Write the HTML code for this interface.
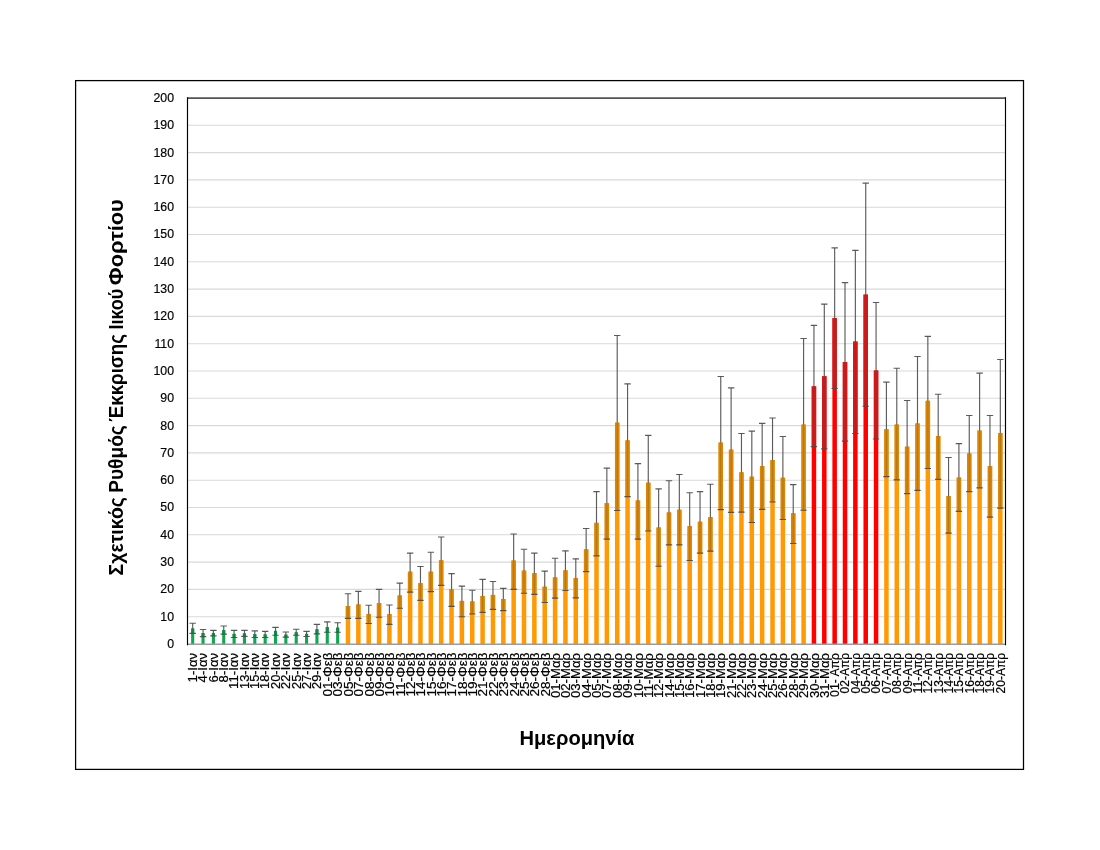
<!DOCTYPE html>
<html lang="el"><head><meta charset="utf-8"><title>Σχετικός Ρυθμός Έκκρισης Ιικού Φορτίου</title>
<style>html,body{margin:0;padding:0;background:#fff}body{width:1100px;height:850px;overflow:hidden}svg{display:block}text{font-family:"Liberation Sans",sans-serif;fill:#000}.yt{font-size:12.3px;text-anchor:end;fill:#111;stroke:#111;stroke-width:0.2px}.xt{text-anchor:end;fill:#000;stroke:#000;stroke-width:0.2px}.ttl{font-weight:bold;font-size:19.8px}</style></head><body>
<svg width="1100" height="850" viewBox="0 0 1100 850">
<rect x="0" y="0" width="1100" height="850" fill="#fff"/>
<rect x="75.6" y="80.6" width="947.9" height="688.8" fill="none" stroke="#000" stroke-width="1.25"/>
<g stroke="#d9d9d9" stroke-width="1.1">
<line x1="188.0" y1="616.70" x2="1005.5" y2="616.70"/>
<line x1="188.0" y1="589.40" x2="1005.5" y2="589.40"/>
<line x1="188.0" y1="562.10" x2="1005.5" y2="562.10"/>
<line x1="188.0" y1="534.80" x2="1005.5" y2="534.80"/>
<line x1="188.0" y1="507.50" x2="1005.5" y2="507.50"/>
<line x1="188.0" y1="480.20" x2="1005.5" y2="480.20"/>
<line x1="188.0" y1="452.90" x2="1005.5" y2="452.90"/>
<line x1="188.0" y1="425.60" x2="1005.5" y2="425.60"/>
<line x1="188.0" y1="398.30" x2="1005.5" y2="398.30"/>
<line x1="188.0" y1="371.00" x2="1005.5" y2="371.00"/>
<line x1="188.0" y1="343.70" x2="1005.5" y2="343.70"/>
<line x1="188.0" y1="316.40" x2="1005.5" y2="316.40"/>
<line x1="188.0" y1="289.10" x2="1005.5" y2="289.10"/>
<line x1="188.0" y1="261.80" x2="1005.5" y2="261.80"/>
<line x1="188.0" y1="234.50" x2="1005.5" y2="234.50"/>
<line x1="188.0" y1="207.20" x2="1005.5" y2="207.20"/>
<line x1="188.0" y1="179.90" x2="1005.5" y2="179.90"/>
<line x1="188.0" y1="152.60" x2="1005.5" y2="152.60"/>
<line x1="188.0" y1="125.30" x2="1005.5" y2="125.30"/>
</g>
<g fill="#12a650">
<rect x="191.13" y="628.44" width="3.10" height="15.56"/>
<rect x="201.48" y="633.08" width="3.10" height="10.92"/>
<rect x="211.84" y="633.08" width="3.10" height="10.92"/>
<rect x="222.19" y="630.08" width="3.10" height="13.92"/>
<rect x="232.54" y="633.90" width="3.10" height="10.10"/>
<rect x="242.90" y="633.35" width="3.10" height="10.65"/>
<rect x="253.25" y="634.17" width="3.10" height="9.83"/>
<rect x="263.61" y="634.45" width="3.10" height="9.55"/>
<rect x="273.96" y="630.90" width="3.10" height="13.10"/>
<rect x="284.32" y="634.58" width="3.10" height="9.42"/>
<rect x="294.67" y="632.26" width="3.10" height="11.74"/>
<rect x="305.03" y="633.90" width="3.10" height="10.10"/>
<rect x="315.38" y="629.26" width="3.10" height="14.74"/>
<rect x="325.73" y="627.07" width="3.10" height="16.93"/>
<rect x="336.09" y="627.62" width="3.10" height="16.38"/>
</g>
<g fill="#ff9a05">
<rect x="345.74" y="606.05" width="4.50" height="37.95"/>
<rect x="356.10" y="604.41" width="4.50" height="39.59"/>
<rect x="366.45" y="613.97" width="4.50" height="30.03"/>
<rect x="376.81" y="603.05" width="4.50" height="40.95"/>
<rect x="387.16" y="613.97" width="4.50" height="30.03"/>
<rect x="397.52" y="595.41" width="4.50" height="48.59"/>
<rect x="407.87" y="571.65" width="4.50" height="72.35"/>
<rect x="418.22" y="583.12" width="4.50" height="60.88"/>
<rect x="428.58" y="571.65" width="4.50" height="72.35"/>
<rect x="438.93" y="560.19" width="4.50" height="83.81"/>
<rect x="449.29" y="589.13" width="4.50" height="54.87"/>
<rect x="459.64" y="600.87" width="4.50" height="43.13"/>
<rect x="470.00" y="601.41" width="4.50" height="42.59"/>
<rect x="480.35" y="595.95" width="4.50" height="48.05"/>
<rect x="490.71" y="594.86" width="4.50" height="49.14"/>
<rect x="501.06" y="598.96" width="4.50" height="45.04"/>
<rect x="511.41" y="560.46" width="4.50" height="83.54"/>
<rect x="521.77" y="570.56" width="4.50" height="73.44"/>
<rect x="532.12" y="573.02" width="4.50" height="70.98"/>
<rect x="542.48" y="586.67" width="4.50" height="57.33"/>
<rect x="552.83" y="577.39" width="4.50" height="66.61"/>
<rect x="563.19" y="570.29" width="4.50" height="73.71"/>
<rect x="573.54" y="577.93" width="4.50" height="66.07"/>
<rect x="583.90" y="549.27" width="4.50" height="94.73"/>
<rect x="594.25" y="522.79" width="4.50" height="121.21"/>
<rect x="604.60" y="503.13" width="4.50" height="140.87"/>
<rect x="614.96" y="422.60" width="4.50" height="221.40"/>
<rect x="625.31" y="440.34" width="4.50" height="203.66"/>
<rect x="635.67" y="500.40" width="4.50" height="143.60"/>
<rect x="646.02" y="482.66" width="4.50" height="161.34"/>
<rect x="656.38" y="527.43" width="4.50" height="116.57"/>
<rect x="666.73" y="512.41" width="4.50" height="131.59"/>
<rect x="677.09" y="509.68" width="4.50" height="134.32"/>
<rect x="687.44" y="526.06" width="4.50" height="117.94"/>
<rect x="697.79" y="521.70" width="4.50" height="122.30"/>
<rect x="708.15" y="517.06" width="4.50" height="126.94"/>
<rect x="718.50" y="442.53" width="4.50" height="201.47"/>
<rect x="728.86" y="449.62" width="4.50" height="194.38"/>
<rect x="739.21" y="472.28" width="4.50" height="171.72"/>
<rect x="749.57" y="476.65" width="4.50" height="167.35"/>
<rect x="759.92" y="466.00" width="4.50" height="178.00"/>
<rect x="770.28" y="460.00" width="4.50" height="184.00"/>
<rect x="780.63" y="477.74" width="4.50" height="166.26"/>
<rect x="790.98" y="513.23" width="4.50" height="130.77"/>
<rect x="801.34" y="424.51" width="4.50" height="219.49"/>
<rect x="884.17" y="429.15" width="4.50" height="214.85"/>
<rect x="894.53" y="424.51" width="4.50" height="219.49"/>
<rect x="904.88" y="446.62" width="4.50" height="197.38"/>
<rect x="915.24" y="423.42" width="4.50" height="220.58"/>
<rect x="925.59" y="400.76" width="4.50" height="243.24"/>
<rect x="935.95" y="435.97" width="4.50" height="208.03"/>
<rect x="946.30" y="496.03" width="4.50" height="147.97"/>
<rect x="956.66" y="477.47" width="4.50" height="166.53"/>
<rect x="967.01" y="453.45" width="4.50" height="190.55"/>
<rect x="977.36" y="430.51" width="4.50" height="213.49"/>
<rect x="987.72" y="466.00" width="4.50" height="178.00"/>
<rect x="998.07" y="432.97" width="4.50" height="211.03"/>
</g>
<g fill="#ff0000">
<rect x="811.69" y="386.29" width="4.50" height="257.71"/>
<rect x="822.05" y="376.19" width="4.50" height="267.81"/>
<rect x="832.40" y="318.04" width="4.50" height="325.96"/>
<rect x="842.76" y="361.99" width="4.50" height="282.01"/>
<rect x="853.11" y="341.52" width="4.50" height="302.48"/>
<rect x="863.47" y="294.56" width="4.50" height="349.44"/>
<rect x="873.82" y="370.45" width="4.50" height="273.55"/>
</g>
<line x1="187.5" y1="644.20" x2="1005.5" y2="644.20" stroke="#979da3" stroke-width="1.6"/>
<g stroke="#4a4a4a" stroke-width="1.15" stroke-opacity="0.9" fill="none">
<path d="M192.68 623.25V633.35"/>
<path d="M203.03 629.53V636.63"/>
<path d="M213.39 630.35V635.81"/>
<path d="M223.74 625.98V634.17"/>
<path d="M234.09 630.35V637.45"/>
<path d="M244.45 630.35V636.36"/>
<path d="M254.80 630.90V637.45"/>
<path d="M265.16 631.44V637.45"/>
<path d="M275.51 627.35V635.26"/>
<path d="M285.87 631.99V637.17"/>
<path d="M296.22 629.26V635.26"/>
<path d="M306.58 631.44V636.49"/>
<path d="M316.93 624.34V633.90"/>
<path d="M327.28 621.89V632.26"/>
<path d="M337.64 622.71V632.26"/>
<path d="M347.99 593.77V618.34"/>
<path d="M358.35 591.31V618.34"/>
<path d="M368.70 605.23V623.52"/>
<path d="M379.06 589.40V617.25"/>
<path d="M389.41 604.96V624.34"/>
<path d="M399.77 583.12V608.24"/>
<path d="M410.12 553.09V592.13"/>
<path d="M420.47 566.47V600.32"/>
<path d="M430.83 552.27V591.58"/>
<path d="M441.18 536.98V585.30"/>
<path d="M451.54 573.57V606.33"/>
<path d="M461.89 586.12V616.70"/>
<path d="M472.25 590.22V613.97"/>
<path d="M482.60 579.30V612.33"/>
<path d="M492.96 581.48V609.33"/>
<path d="M503.31 588.31V610.69"/>
<path d="M513.66 533.98V589.40"/>
<path d="M524.02 549.27V593.22"/>
<path d="M534.37 553.09V594.31"/>
<path d="M544.73 571.11V602.50"/>
<path d="M555.08 558.28V598.14"/>
<path d="M565.44 550.91V590.49"/>
<path d="M575.79 558.82V597.86"/>
<path d="M586.15 528.52V571.65"/>
<path d="M596.50 491.67V555.82"/>
<path d="M606.85 468.19V539.17"/>
<path d="M617.21 335.51V510.50"/>
<path d="M627.56 383.83V496.58"/>
<path d="M637.92 463.55V539.17"/>
<path d="M648.27 435.43V530.98"/>
<path d="M658.63 488.94V566.20"/>
<path d="M668.98 480.75V544.90"/>
<path d="M679.34 474.47V544.90"/>
<path d="M689.69 492.76V560.46"/>
<path d="M700.04 491.67V553.09"/>
<path d="M710.40 484.29V551.18"/>
<path d="M720.75 376.46V509.68"/>
<path d="M731.11 387.93V512.41"/>
<path d="M741.46 433.52V512.14"/>
<path d="M751.82 431.06V522.51"/>
<path d="M762.17 423.42V509.41"/>
<path d="M772.53 417.96V502.04"/>
<path d="M782.88 436.52V519.51"/>
<path d="M793.23 484.57V543.54"/>
<path d="M803.59 338.51V510.23"/>
<path d="M813.94 325.41V446.62"/>
<path d="M824.30 304.12V448.81"/>
<path d="M834.65 247.88V388.47"/>
<path d="M845.01 282.55V441.16"/>
<path d="M855.36 250.33V433.52"/>
<path d="M865.72 183.18V406.22"/>
<path d="M876.07 302.48V438.98"/>
<path d="M886.42 382.19V476.65"/>
<path d="M896.78 368.27V479.93"/>
<path d="M907.13 400.48V493.58"/>
<path d="M917.49 356.53V490.30"/>
<path d="M927.84 336.33V468.46"/>
<path d="M938.20 394.21V479.38"/>
<path d="M948.55 457.54V533.16"/>
<path d="M958.91 443.62V511.32"/>
<path d="M969.26 415.50V491.67"/>
<path d="M979.61 373.18V487.84"/>
<path d="M989.97 415.50V517.06"/>
<path d="M1000.32 359.53V508.05"/>
</g>
<g fill-opacity="0.78">
<g fill="#108848">
<rect x="191.13" y="628.44" width="3.10" height="4.91"/>
<rect x="201.48" y="633.08" width="3.10" height="3.55"/>
<rect x="211.84" y="633.08" width="3.10" height="2.73"/>
<rect x="222.19" y="630.08" width="3.10" height="4.10"/>
<rect x="232.54" y="633.90" width="3.10" height="3.55"/>
<rect x="242.90" y="633.35" width="3.10" height="3.00"/>
<rect x="253.25" y="634.17" width="3.10" height="3.28"/>
<rect x="263.61" y="634.45" width="3.10" height="3.00"/>
<rect x="273.96" y="630.90" width="3.10" height="4.37"/>
<rect x="284.32" y="634.58" width="3.10" height="2.59"/>
<rect x="294.67" y="632.26" width="3.10" height="3.00"/>
<rect x="305.03" y="633.90" width="3.10" height="2.59"/>
<rect x="315.38" y="629.26" width="3.10" height="4.64"/>
<rect x="325.73" y="627.07" width="3.10" height="5.19"/>
<rect x="336.09" y="627.62" width="3.10" height="4.64"/>
</g>
<g fill="#cf8208">
<rect x="345.74" y="606.05" width="4.50" height="12.28"/>
<rect x="356.10" y="604.41" width="4.50" height="13.92"/>
<rect x="366.45" y="613.97" width="4.50" height="9.55"/>
<rect x="376.81" y="603.05" width="4.50" height="14.20"/>
<rect x="387.16" y="613.97" width="4.50" height="10.37"/>
<rect x="397.52" y="595.41" width="4.50" height="12.83"/>
<rect x="407.87" y="571.65" width="4.50" height="20.48"/>
<rect x="418.22" y="583.12" width="4.50" height="17.20"/>
<rect x="428.58" y="571.65" width="4.50" height="19.93"/>
<rect x="438.93" y="560.19" width="4.50" height="25.12"/>
<rect x="449.29" y="589.13" width="4.50" height="17.20"/>
<rect x="459.64" y="600.87" width="4.50" height="15.83"/>
<rect x="470.00" y="601.41" width="4.50" height="12.56"/>
<rect x="480.35" y="595.95" width="4.50" height="16.38"/>
<rect x="490.71" y="594.86" width="4.50" height="14.47"/>
<rect x="501.06" y="598.96" width="4.50" height="11.74"/>
<rect x="511.41" y="560.46" width="4.50" height="28.94"/>
<rect x="521.77" y="570.56" width="4.50" height="22.66"/>
<rect x="532.12" y="573.02" width="4.50" height="21.29"/>
<rect x="542.48" y="586.67" width="4.50" height="15.83"/>
<rect x="552.83" y="577.39" width="4.50" height="20.75"/>
<rect x="563.19" y="570.29" width="4.50" height="20.20"/>
<rect x="573.54" y="577.93" width="4.50" height="19.93"/>
<rect x="583.90" y="549.27" width="4.50" height="22.39"/>
<rect x="594.25" y="522.79" width="4.50" height="33.03"/>
<rect x="604.60" y="503.13" width="4.50" height="36.04"/>
<rect x="614.96" y="422.60" width="4.50" height="87.91"/>
<rect x="625.31" y="440.34" width="4.50" height="56.24"/>
<rect x="635.67" y="500.40" width="4.50" height="38.77"/>
<rect x="646.02" y="482.66" width="4.50" height="48.32"/>
<rect x="656.38" y="527.43" width="4.50" height="38.77"/>
<rect x="666.73" y="512.41" width="4.50" height="32.49"/>
<rect x="677.09" y="509.68" width="4.50" height="35.22"/>
<rect x="687.44" y="526.06" width="4.50" height="34.40"/>
<rect x="697.79" y="521.70" width="4.50" height="31.39"/>
<rect x="708.15" y="517.06" width="4.50" height="34.12"/>
<rect x="718.50" y="442.53" width="4.50" height="67.16"/>
<rect x="728.86" y="449.62" width="4.50" height="62.79"/>
<rect x="739.21" y="472.28" width="4.50" height="39.86"/>
<rect x="749.57" y="476.65" width="4.50" height="45.86"/>
<rect x="759.92" y="466.00" width="4.50" height="43.41"/>
<rect x="770.28" y="460.00" width="4.50" height="42.04"/>
<rect x="780.63" y="477.74" width="4.50" height="41.77"/>
<rect x="790.98" y="513.23" width="4.50" height="30.30"/>
<rect x="801.34" y="424.51" width="4.50" height="85.72"/>
<rect x="884.17" y="429.15" width="4.50" height="47.50"/>
<rect x="894.53" y="424.51" width="4.50" height="55.42"/>
<rect x="904.88" y="446.62" width="4.50" height="46.96"/>
<rect x="915.24" y="423.42" width="4.50" height="66.89"/>
<rect x="925.59" y="400.76" width="4.50" height="67.70"/>
<rect x="935.95" y="435.97" width="4.50" height="43.41"/>
<rect x="946.30" y="496.03" width="4.50" height="37.13"/>
<rect x="956.66" y="477.47" width="4.50" height="33.85"/>
<rect x="967.01" y="453.45" width="4.50" height="38.22"/>
<rect x="977.36" y="430.51" width="4.50" height="57.33"/>
<rect x="987.72" y="466.00" width="4.50" height="51.05"/>
<rect x="998.07" y="432.97" width="4.50" height="75.08"/>
</g>
<g fill="#c81e1e">
<rect x="811.69" y="386.29" width="4.50" height="60.33"/>
<rect x="822.05" y="376.19" width="4.50" height="72.62"/>
<rect x="832.40" y="318.04" width="4.50" height="70.43"/>
<rect x="842.76" y="361.99" width="4.50" height="79.17"/>
<rect x="853.11" y="341.52" width="4.50" height="92.00"/>
<rect x="863.47" y="294.56" width="4.50" height="111.66"/>
<rect x="873.82" y="370.45" width="4.50" height="68.52"/>
</g>
</g>
<g stroke="#4a4a4a" stroke-width="1.15" stroke-opacity="0.9" fill="none">
<path d="M189.48 623.25h6.4M189.48 633.35h6.4"/>
<path d="M199.83 629.53h6.4M199.83 636.63h6.4"/>
<path d="M210.19 630.35h6.4M210.19 635.81h6.4"/>
<path d="M220.54 625.98h6.4M220.54 634.17h6.4"/>
<path d="M230.89 630.35h6.4M230.89 637.45h6.4"/>
<path d="M241.25 630.35h6.4M241.25 636.36h6.4"/>
<path d="M251.60 630.90h6.4M251.60 637.45h6.4"/>
<path d="M261.96 631.44h6.4M261.96 637.45h6.4"/>
<path d="M272.31 627.35h6.4M272.31 635.26h6.4"/>
<path d="M282.67 631.99h6.4M282.67 637.17h6.4"/>
<path d="M293.02 629.26h6.4M293.02 635.26h6.4"/>
<path d="M303.38 631.44h6.4M303.38 636.49h6.4"/>
<path d="M313.73 624.34h6.4M313.73 633.90h6.4"/>
<path d="M324.08 621.89h6.4M324.08 632.26h6.4"/>
<path d="M334.44 622.71h6.4M334.44 632.26h6.4"/>
<path d="M344.79 593.77h6.4M344.79 618.34h6.4"/>
<path d="M355.15 591.31h6.4M355.15 618.34h6.4"/>
<path d="M365.50 605.23h6.4M365.50 623.52h6.4"/>
<path d="M375.86 589.40h6.4M375.86 617.25h6.4"/>
<path d="M386.21 604.96h6.4M386.21 624.34h6.4"/>
<path d="M396.57 583.12h6.4M396.57 608.24h6.4"/>
<path d="M406.92 553.09h6.4M406.92 592.13h6.4"/>
<path d="M417.27 566.47h6.4M417.27 600.32h6.4"/>
<path d="M427.63 552.27h6.4M427.63 591.58h6.4"/>
<path d="M437.98 536.98h6.4M437.98 585.30h6.4"/>
<path d="M448.34 573.57h6.4M448.34 606.33h6.4"/>
<path d="M458.69 586.12h6.4M458.69 616.70h6.4"/>
<path d="M469.05 590.22h6.4M469.05 613.97h6.4"/>
<path d="M479.40 579.30h6.4M479.40 612.33h6.4"/>
<path d="M489.76 581.48h6.4M489.76 609.33h6.4"/>
<path d="M500.11 588.31h6.4M500.11 610.69h6.4"/>
<path d="M510.46 533.98h6.4M510.46 589.40h6.4"/>
<path d="M520.82 549.27h6.4M520.82 593.22h6.4"/>
<path d="M531.17 553.09h6.4M531.17 594.31h6.4"/>
<path d="M541.53 571.11h6.4M541.53 602.50h6.4"/>
<path d="M551.88 558.28h6.4M551.88 598.14h6.4"/>
<path d="M562.24 550.91h6.4M562.24 590.49h6.4"/>
<path d="M572.59 558.82h6.4M572.59 597.86h6.4"/>
<path d="M582.95 528.52h6.4M582.95 571.65h6.4"/>
<path d="M593.30 491.67h6.4M593.30 555.82h6.4"/>
<path d="M603.65 468.19h6.4M603.65 539.17h6.4"/>
<path d="M614.01 335.51h6.4M614.01 510.50h6.4"/>
<path d="M624.36 383.83h6.4M624.36 496.58h6.4"/>
<path d="M634.72 463.55h6.4M634.72 539.17h6.4"/>
<path d="M645.07 435.43h6.4M645.07 530.98h6.4"/>
<path d="M655.43 488.94h6.4M655.43 566.20h6.4"/>
<path d="M665.78 480.75h6.4M665.78 544.90h6.4"/>
<path d="M676.14 474.47h6.4M676.14 544.90h6.4"/>
<path d="M686.49 492.76h6.4M686.49 560.46h6.4"/>
<path d="M696.84 491.67h6.4M696.84 553.09h6.4"/>
<path d="M707.20 484.29h6.4M707.20 551.18h6.4"/>
<path d="M717.55 376.46h6.4M717.55 509.68h6.4"/>
<path d="M727.91 387.93h6.4M727.91 512.41h6.4"/>
<path d="M738.26 433.52h6.4M738.26 512.14h6.4"/>
<path d="M748.62 431.06h6.4M748.62 522.51h6.4"/>
<path d="M758.97 423.42h6.4M758.97 509.41h6.4"/>
<path d="M769.33 417.96h6.4M769.33 502.04h6.4"/>
<path d="M779.68 436.52h6.4M779.68 519.51h6.4"/>
<path d="M790.03 484.57h6.4M790.03 543.54h6.4"/>
<path d="M800.39 338.51h6.4M800.39 510.23h6.4"/>
<path d="M810.74 325.41h6.4M810.74 446.62h6.4"/>
<path d="M821.10 304.12h6.4M821.10 448.81h6.4"/>
<path d="M831.45 247.88h6.4M831.45 388.47h6.4"/>
<path d="M841.81 282.55h6.4M841.81 441.16h6.4"/>
<path d="M852.16 250.33h6.4M852.16 433.52h6.4"/>
<path d="M862.52 183.18h6.4M862.52 406.22h6.4"/>
<path d="M872.87 302.48h6.4M872.87 438.98h6.4"/>
<path d="M883.22 382.19h6.4M883.22 476.65h6.4"/>
<path d="M893.58 368.27h6.4M893.58 479.93h6.4"/>
<path d="M903.93 400.48h6.4M903.93 493.58h6.4"/>
<path d="M914.29 356.53h6.4M914.29 490.30h6.4"/>
<path d="M924.64 336.33h6.4M924.64 468.46h6.4"/>
<path d="M935.00 394.21h6.4M935.00 479.38h6.4"/>
<path d="M945.35 457.54h6.4M945.35 533.16h6.4"/>
<path d="M955.71 443.62h6.4M955.71 511.32h6.4"/>
<path d="M966.06 415.50h6.4M966.06 491.67h6.4"/>
<path d="M976.41 373.18h6.4M976.41 487.84h6.4"/>
<path d="M986.77 415.50h6.4M986.77 517.06h6.4"/>
<path d="M997.12 359.53h6.4M997.12 508.05h6.4"/>
</g>
<line x1="187.0" y1="98.1" x2="1006.0" y2="98.1" stroke="#555" stroke-width="1.6"/>
<line x1="187.5" y1="97.3" x2="187.5" y2="645.2" stroke="#000" stroke-width="1.15"/>
<line x1="1005.5" y1="97.3" x2="1005.5" y2="645.2" stroke="#000" stroke-width="1.15"/>
<g class="yt">
<text x="174" y="647.9">0</text>
<text x="174" y="620.6">10</text>
<text x="174" y="593.3">20</text>
<text x="174" y="566.0">30</text>
<text x="174" y="538.7">40</text>
<text x="174" y="511.4">50</text>
<text x="174" y="484.1">60</text>
<text x="174" y="456.8">70</text>
<text x="174" y="429.5">80</text>
<text x="174" y="402.2">90</text>
<text x="174" y="374.9">100</text>
<text x="174" y="347.6">110</text>
<text x="174" y="320.3">120</text>
<text x="174" y="293.0">130</text>
<text x="174" y="265.7">140</text>
<text x="174" y="238.4">150</text>
<text x="174" y="211.1">160</text>
<text x="174" y="183.8">170</text>
<text x="174" y="156.5">180</text>
<text x="174" y="129.2">190</text>
<text x="174" y="101.9">200</text>
</g>
<g class="xt">
<text transform="translate(196.97 653.0) rotate(-90)" font-size="12.0" textLength="29.4" lengthAdjust="spacingAndGlyphs">1-Ιαν</text>
<text transform="translate(207.33 653.0) rotate(-90)" font-size="12.0" textLength="29.4" lengthAdjust="spacingAndGlyphs">4-Ιαν</text>
<text transform="translate(217.68 653.0) rotate(-90)" font-size="12.0" textLength="29.4" lengthAdjust="spacingAndGlyphs">6-Ιαν</text>
<text transform="translate(228.04 653.0) rotate(-90)" font-size="12.0" textLength="29.4" lengthAdjust="spacingAndGlyphs">8-Ιαν</text>
<text transform="translate(238.39 653.0) rotate(-90)" font-size="12.0" textLength="35.9" lengthAdjust="spacingAndGlyphs">11-Ιαν</text>
<text transform="translate(248.75 653.0) rotate(-90)" font-size="12.0" textLength="35.9" lengthAdjust="spacingAndGlyphs">13-Ιαν</text>
<text transform="translate(259.10 653.0) rotate(-90)" font-size="12.0" textLength="35.9" lengthAdjust="spacingAndGlyphs">15-Ιαν</text>
<text transform="translate(269.45 653.0) rotate(-90)" font-size="12.0" textLength="35.9" lengthAdjust="spacingAndGlyphs">18-Ιαν</text>
<text transform="translate(279.81 653.0) rotate(-90)" font-size="12.0" textLength="35.9" lengthAdjust="spacingAndGlyphs">20-Ιαν</text>
<text transform="translate(290.16 653.0) rotate(-90)" font-size="12.0" textLength="35.9" lengthAdjust="spacingAndGlyphs">22-Ιαν</text>
<text transform="translate(300.52 653.0) rotate(-90)" font-size="12.0" textLength="35.9" lengthAdjust="spacingAndGlyphs">25-Ιαν</text>
<text transform="translate(310.87 653.0) rotate(-90)" font-size="12.0" textLength="35.9" lengthAdjust="spacingAndGlyphs">27-Ιαν</text>
<text transform="translate(321.23 653.0) rotate(-90)" font-size="12.0" textLength="35.9" lengthAdjust="spacingAndGlyphs">29-Ιαν</text>
<text transform="translate(332.12 652.5) rotate(-90)" font-size="13.5" textLength="44.1" lengthAdjust="spacingAndGlyphs">01-Φεβ</text>
<text transform="translate(342.47 652.5) rotate(-90)" font-size="13.5" textLength="44.1" lengthAdjust="spacingAndGlyphs">03-Φεβ</text>
<text transform="translate(352.83 652.5) rotate(-90)" font-size="13.5" textLength="44.1" lengthAdjust="spacingAndGlyphs">05-Φεβ</text>
<text transform="translate(363.18 652.5) rotate(-90)" font-size="13.5" textLength="44.1" lengthAdjust="spacingAndGlyphs">07-Φεβ</text>
<text transform="translate(373.54 652.5) rotate(-90)" font-size="13.5" textLength="44.1" lengthAdjust="spacingAndGlyphs">08-Φεβ</text>
<text transform="translate(383.89 652.5) rotate(-90)" font-size="13.5" textLength="44.1" lengthAdjust="spacingAndGlyphs">09-Φεβ</text>
<text transform="translate(394.24 652.5) rotate(-90)" font-size="13.5" textLength="44.1" lengthAdjust="spacingAndGlyphs">10-Φεβ</text>
<text transform="translate(404.60 652.5) rotate(-90)" font-size="13.5" textLength="44.1" lengthAdjust="spacingAndGlyphs">11-Φεβ</text>
<text transform="translate(414.95 652.5) rotate(-90)" font-size="13.5" textLength="44.1" lengthAdjust="spacingAndGlyphs">12-Φεβ</text>
<text transform="translate(425.31 652.5) rotate(-90)" font-size="13.5" textLength="44.1" lengthAdjust="spacingAndGlyphs">14-Φεβ</text>
<text transform="translate(435.66 652.5) rotate(-90)" font-size="13.5" textLength="44.1" lengthAdjust="spacingAndGlyphs">15-Φεβ</text>
<text transform="translate(446.02 652.5) rotate(-90)" font-size="13.5" textLength="44.1" lengthAdjust="spacingAndGlyphs">16-Φεβ</text>
<text transform="translate(456.37 652.5) rotate(-90)" font-size="13.5" textLength="44.1" lengthAdjust="spacingAndGlyphs">17-Φεβ</text>
<text transform="translate(466.73 652.5) rotate(-90)" font-size="13.5" textLength="44.1" lengthAdjust="spacingAndGlyphs">18-Φεβ</text>
<text transform="translate(477.08 652.5) rotate(-90)" font-size="13.5" textLength="44.1" lengthAdjust="spacingAndGlyphs">19-Φεβ</text>
<text transform="translate(487.43 652.5) rotate(-90)" font-size="13.5" textLength="44.1" lengthAdjust="spacingAndGlyphs">21-Φεβ</text>
<text transform="translate(497.79 652.5) rotate(-90)" font-size="13.5" textLength="44.1" lengthAdjust="spacingAndGlyphs">22-Φεβ</text>
<text transform="translate(508.14 652.5) rotate(-90)" font-size="13.5" textLength="44.1" lengthAdjust="spacingAndGlyphs">23-Φεβ</text>
<text transform="translate(518.50 652.5) rotate(-90)" font-size="13.5" textLength="44.1" lengthAdjust="spacingAndGlyphs">24-Φεβ</text>
<text transform="translate(528.85 652.5) rotate(-90)" font-size="13.5" textLength="44.1" lengthAdjust="spacingAndGlyphs">25-Φεβ</text>
<text transform="translate(539.21 652.5) rotate(-90)" font-size="13.5" textLength="44.1" lengthAdjust="spacingAndGlyphs">26-Φεβ</text>
<text transform="translate(549.56 652.5) rotate(-90)" font-size="13.5" textLength="44.1" lengthAdjust="spacingAndGlyphs">28-Φεβ</text>
<text transform="translate(559.66 653.0) rotate(-90)" font-size="12.8" textLength="45.0" lengthAdjust="spacingAndGlyphs">01-Μαρ</text>
<text transform="translate(570.02 653.0) rotate(-90)" font-size="12.8" textLength="45.0" lengthAdjust="spacingAndGlyphs">02-Μαρ</text>
<text transform="translate(580.37 653.0) rotate(-90)" font-size="12.8" textLength="45.0" lengthAdjust="spacingAndGlyphs">03-Μαρ</text>
<text transform="translate(590.73 653.0) rotate(-90)" font-size="12.8" textLength="45.0" lengthAdjust="spacingAndGlyphs">04-Μαρ</text>
<text transform="translate(601.08 653.0) rotate(-90)" font-size="12.8" textLength="45.0" lengthAdjust="spacingAndGlyphs">05-Μαρ</text>
<text transform="translate(611.44 653.0) rotate(-90)" font-size="12.8" textLength="45.0" lengthAdjust="spacingAndGlyphs">07-Μαρ</text>
<text transform="translate(621.79 653.0) rotate(-90)" font-size="12.8" textLength="45.0" lengthAdjust="spacingAndGlyphs">08-Μαρ</text>
<text transform="translate(632.15 653.0) rotate(-90)" font-size="12.8" textLength="45.0" lengthAdjust="spacingAndGlyphs">09-Μαρ</text>
<text transform="translate(642.50 653.0) rotate(-90)" font-size="12.8" textLength="45.0" lengthAdjust="spacingAndGlyphs">10-Μαρ</text>
<text transform="translate(652.85 653.0) rotate(-90)" font-size="12.8" textLength="45.0" lengthAdjust="spacingAndGlyphs">11-Μαρ</text>
<text transform="translate(663.21 653.0) rotate(-90)" font-size="12.8" textLength="45.0" lengthAdjust="spacingAndGlyphs">12-Μαρ</text>
<text transform="translate(673.56 653.0) rotate(-90)" font-size="12.8" textLength="45.0" lengthAdjust="spacingAndGlyphs">14-Μαρ</text>
<text transform="translate(683.92 653.0) rotate(-90)" font-size="12.8" textLength="45.0" lengthAdjust="spacingAndGlyphs">15-Μαρ</text>
<text transform="translate(694.27 653.0) rotate(-90)" font-size="12.8" textLength="45.0" lengthAdjust="spacingAndGlyphs">16-Μαρ</text>
<text transform="translate(704.63 653.0) rotate(-90)" font-size="12.8" textLength="45.0" lengthAdjust="spacingAndGlyphs">17-Μαρ</text>
<text transform="translate(714.98 653.0) rotate(-90)" font-size="12.8" textLength="45.0" lengthAdjust="spacingAndGlyphs">18-Μαρ</text>
<text transform="translate(725.34 653.0) rotate(-90)" font-size="12.8" textLength="45.0" lengthAdjust="spacingAndGlyphs">19-Μαρ</text>
<text transform="translate(735.69 653.0) rotate(-90)" font-size="12.8" textLength="45.0" lengthAdjust="spacingAndGlyphs">21-Μαρ</text>
<text transform="translate(746.04 653.0) rotate(-90)" font-size="12.8" textLength="45.0" lengthAdjust="spacingAndGlyphs">22-Μαρ</text>
<text transform="translate(756.40 653.0) rotate(-90)" font-size="12.8" textLength="45.0" lengthAdjust="spacingAndGlyphs">23-Μαρ</text>
<text transform="translate(766.75 653.0) rotate(-90)" font-size="12.8" textLength="45.0" lengthAdjust="spacingAndGlyphs">24-Μαρ</text>
<text transform="translate(777.11 653.0) rotate(-90)" font-size="12.8" textLength="45.0" lengthAdjust="spacingAndGlyphs">25-Μαρ</text>
<text transform="translate(787.46 653.0) rotate(-90)" font-size="12.8" textLength="45.0" lengthAdjust="spacingAndGlyphs">26-Μαρ</text>
<text transform="translate(797.82 653.0) rotate(-90)" font-size="12.8" textLength="45.0" lengthAdjust="spacingAndGlyphs">28-Μαρ</text>
<text transform="translate(808.17 653.0) rotate(-90)" font-size="12.8" textLength="45.0" lengthAdjust="spacingAndGlyphs">29-Μαρ</text>
<text transform="translate(818.53 653.0) rotate(-90)" font-size="12.8" textLength="45.0" lengthAdjust="spacingAndGlyphs">30-Μαρ</text>
<text transform="translate(828.88 653.0) rotate(-90)" font-size="12.8" textLength="45.0" lengthAdjust="spacingAndGlyphs">31-Μαρ</text>
<text transform="translate(839.06 653.0) rotate(-90)" font-size="12.3" textLength="43.9" lengthAdjust="spacingAndGlyphs">01- Απρ</text>
<text transform="translate(849.41 653.0) rotate(-90)" font-size="12.3" textLength="40.4" lengthAdjust="spacingAndGlyphs">02-Απρ</text>
<text transform="translate(859.76 653.0) rotate(-90)" font-size="12.3" textLength="40.4" lengthAdjust="spacingAndGlyphs">04-Απρ</text>
<text transform="translate(870.12 653.0) rotate(-90)" font-size="12.3" textLength="40.4" lengthAdjust="spacingAndGlyphs">05-Απρ</text>
<text transform="translate(880.47 653.0) rotate(-90)" font-size="12.3" textLength="40.4" lengthAdjust="spacingAndGlyphs">06-Απρ</text>
<text transform="translate(890.83 653.0) rotate(-90)" font-size="12.3" textLength="40.4" lengthAdjust="spacingAndGlyphs">07-Απρ</text>
<text transform="translate(901.18 653.0) rotate(-90)" font-size="12.3" textLength="40.4" lengthAdjust="spacingAndGlyphs">08-Απρ</text>
<text transform="translate(911.54 653.0) rotate(-90)" font-size="12.3" textLength="40.4" lengthAdjust="spacingAndGlyphs">09-Απρ</text>
<text transform="translate(921.89 653.0) rotate(-90)" font-size="12.3" textLength="40.4" lengthAdjust="spacingAndGlyphs">11-Απρ</text>
<text transform="translate(932.25 653.0) rotate(-90)" font-size="12.3" textLength="40.4" lengthAdjust="spacingAndGlyphs">12-Απρ</text>
<text transform="translate(942.60 653.0) rotate(-90)" font-size="12.3" textLength="40.4" lengthAdjust="spacingAndGlyphs">13-Απρ</text>
<text transform="translate(952.95 653.0) rotate(-90)" font-size="12.3" textLength="40.4" lengthAdjust="spacingAndGlyphs">14-Απρ</text>
<text transform="translate(963.31 653.0) rotate(-90)" font-size="12.3" textLength="40.4" lengthAdjust="spacingAndGlyphs">15-Απρ</text>
<text transform="translate(973.66 653.0) rotate(-90)" font-size="12.3" textLength="40.4" lengthAdjust="spacingAndGlyphs">16-Απρ</text>
<text transform="translate(984.02 653.0) rotate(-90)" font-size="12.3" textLength="40.4" lengthAdjust="spacingAndGlyphs">18-Απρ</text>
<text transform="translate(994.37 653.0) rotate(-90)" font-size="12.3" textLength="40.4" lengthAdjust="spacingAndGlyphs">19-Απρ</text>
<text transform="translate(1004.73 653.0) rotate(-90)" font-size="12.3" textLength="40.4" lengthAdjust="spacingAndGlyphs">20-Απρ</text>
</g>
<text class="ttl" x="519.5" y="744.8" textLength="115" lengthAdjust="spacingAndGlyphs">Ημερομηνία</text>
<text class="ttl" transform="translate(123.2 574.7) rotate(-90)"><tspan x="-0.8" textLength="78.5" lengthAdjust="spacingAndGlyphs">Σχετικός</tspan> <tspan x="81.9" textLength="67.6" lengthAdjust="spacingAndGlyphs">Ρυθμός</tspan> <tspan x="152.9" textLength="87.7" lengthAdjust="spacingAndGlyphs">Έκκρισης</tspan> <tspan x="245.2" textLength="40.8" lengthAdjust="spacingAndGlyphs">Ιικού</tspan> <tspan x="289.4" textLength="86.1" lengthAdjust="spacingAndGlyphs">Φορτίου</tspan></text>
</svg></body></html>
